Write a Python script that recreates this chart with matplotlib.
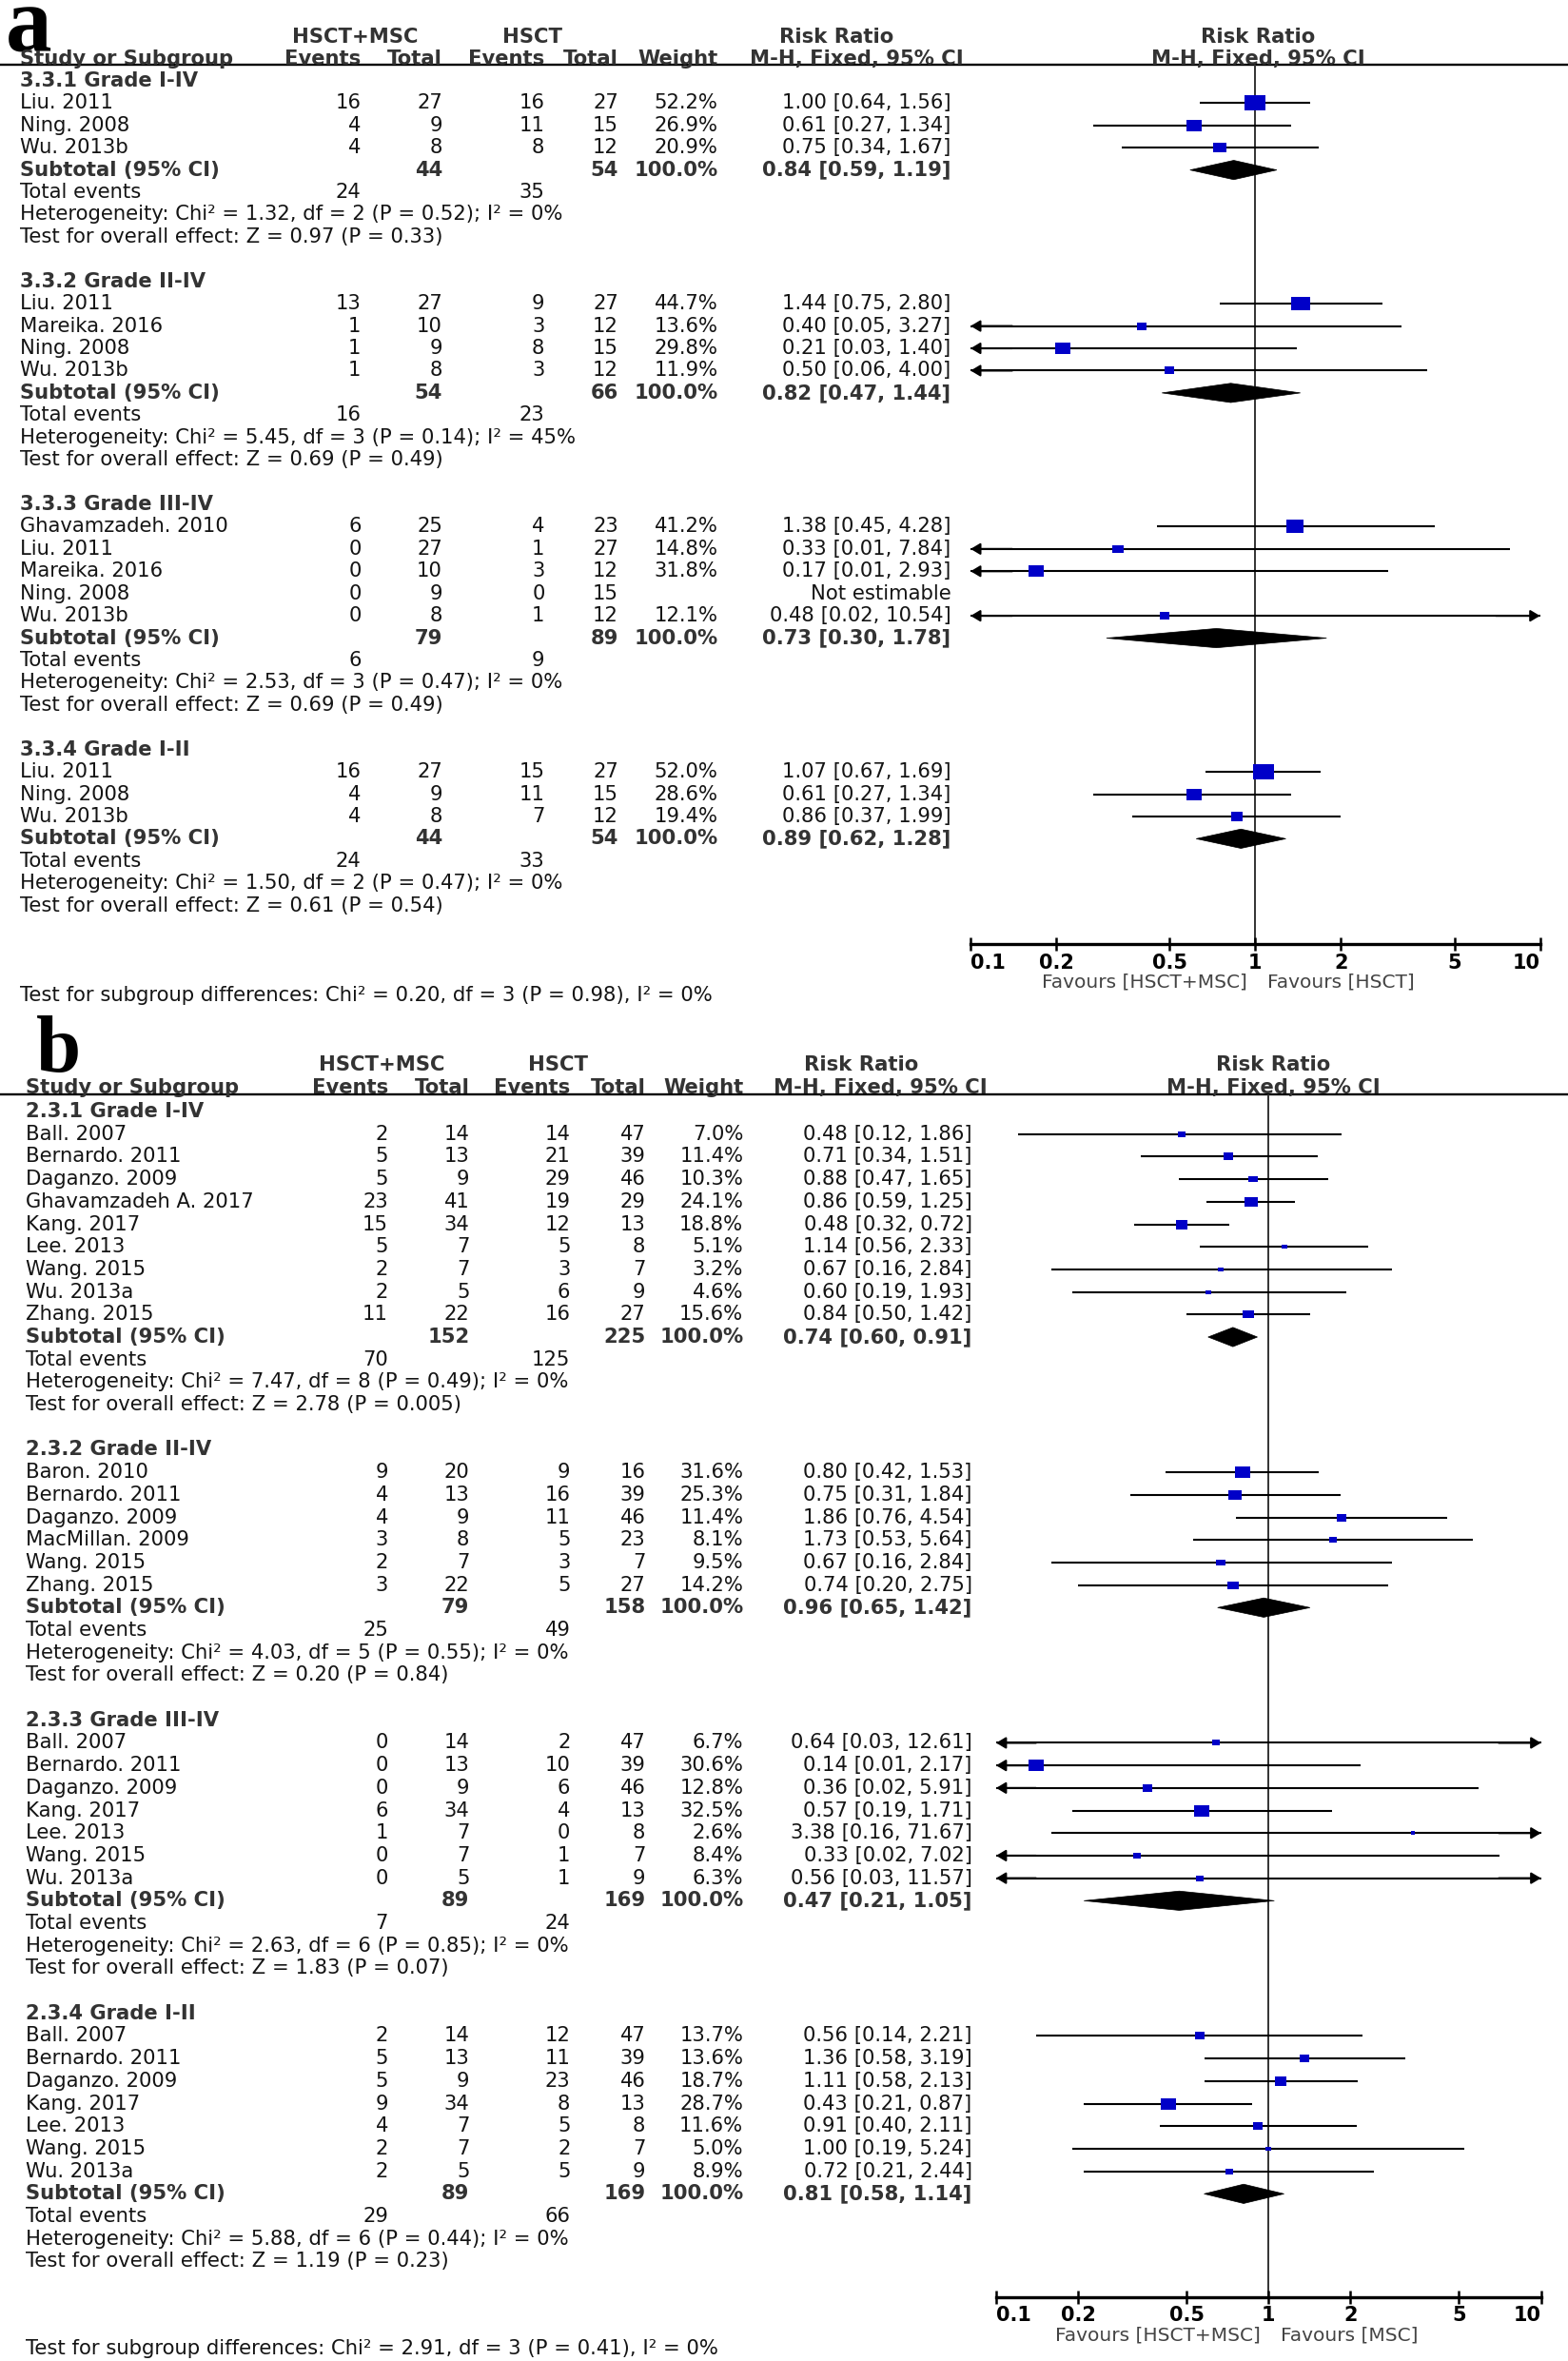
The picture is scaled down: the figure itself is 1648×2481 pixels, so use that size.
import matplotlib
matplotlib.use('Agg')
import matplotlib.pyplot as plt
from matplotlib.patches import Polygon
from matplotlib.path import Path
import numpy as np

# ---------------- DATA : panel a ----------------
a_groups = ["3.3.1 Grade I-IV", "3.3.2 Grade II-IV", "3.3.3 Grade III-IV", "3.3.4 Grade I-II"]
a_group_sizes = [3, 4, 5, 3]
a_studies = ["Liu. 2011", "Ning. 2008", "Wu. 2013b",
             "Liu. 2011", "Mareika. 2016", "Ning. 2008", "Wu. 2013b",
             "Ghavamzadeh. 2010", "Liu. 2011", "Mareika. 2016", "Ning. 2008", "Wu. 2013b",
             "Liu. 2011", "Ning. 2008", "Wu. 2013b"]
a_ev_exp = [16, 4, 4, 13, 1, 1, 1, 6, 0, 0, 0, 0, 16, 4, 4]
a_tot_exp = [27, 9, 8, 27, 10, 9, 8, 25, 27, 10, 9, 8, 27, 9, 8]
a_ev_ctl = [16, 11, 8, 9, 3, 8, 3, 4, 1, 3, 0, 1, 15, 11, 7]
a_tot_ctl = [27, 15, 12, 27, 12, 15, 12, 23, 27, 12, 15, 12, 27, 15, 12]
a_weight = [52.2, 26.9, 20.9, 44.7, 13.6, 29.8, 11.9, 41.2, 14.8, 31.8, None, 12.1, 52.0, 28.6, 19.4]
a_rr = [1.00, 0.61, 0.75, 1.44, 0.40, 0.21, 0.50, 1.38, 0.33, 0.17, None, 0.48, 1.07, 0.61, 0.86]
a_lo = [0.64, 0.27, 0.34, 0.75, 0.05, 0.03, 0.06, 0.45, 0.01, 0.01, None, 0.02, 0.67, 0.27, 0.37]
a_hi = [1.56, 1.34, 1.67, 2.80, 3.27, 1.40, 4.00, 4.28, 7.84, 2.93, None, 10.54, 1.69, 1.34, 1.99]
a_sub_tot_exp = [44, 54, 79, 44]
a_sub_tot_ctl = [54, 66, 89, 54]
a_sub_rr = [0.84, 0.82, 0.73, 0.89]
a_sub_lo = [0.59, 0.47, 0.30, 0.62]
a_sub_hi = [1.19, 1.44, 1.78, 1.28]
a_totev_exp = [24, 16, 6, 24]
a_totev_ctl = [35, 23, 9, 33]
a_het = ["Heterogeneity: Chi\u00b2 = 1.32, df = 2 (P = 0.52); I\u00b2 = 0%",
         "Heterogeneity: Chi\u00b2 = 5.45, df = 3 (P = 0.14); I\u00b2 = 45%",
         "Heterogeneity: Chi\u00b2 = 2.53, df = 3 (P = 0.47); I\u00b2 = 0%",
         "Heterogeneity: Chi\u00b2 = 1.50, df = 2 (P = 0.47); I\u00b2 = 0%"]
a_overall = ["Test for overall effect: Z = 0.97 (P = 0.33)",
             "Test for overall effect: Z = 0.69 (P = 0.49)",
             "Test for overall effect: Z = 0.69 (P = 0.49)",
             "Test for overall effect: Z = 0.61 (P = 0.54)"]
a_subgroup_test = "Test for subgroup differences: Chi\u00b2 = 0.20, df = 3 (P = 0.98), I\u00b2 = 0%"
a_favours = ("Favours [HSCT+MSC]", "Favours [HSCT]")

# ---------------- DATA : panel b ----------------
b_groups = ["2.3.1 Grade I-IV", "2.3.2 Grade II-IV", "2.3.3 Grade III-IV", "2.3.4 Grade I-II"]
b_group_sizes = [9, 6, 7, 7]
b_studies = ["Ball. 2007", "Bernardo. 2011", "Daganzo. 2009", "Ghavamzadeh A. 2017", "Kang. 2017",
             "Lee. 2013", "Wang. 2015", "Wu. 2013a", "Zhang. 2015",
             "Baron. 2010", "Bernardo. 2011", "Daganzo. 2009", "MacMillan. 2009", "Wang. 2015", "Zhang. 2015",
             "Ball. 2007", "Bernardo. 2011", "Daganzo. 2009", "Kang. 2017", "Lee. 2013", "Wang. 2015", "Wu. 2013a",
             "Ball. 2007", "Bernardo. 2011", "Daganzo. 2009", "Kang. 2017", "Lee. 2013", "Wang. 2015", "Wu. 2013a"]
b_ev_exp = [2, 5, 5, 23, 15, 5, 2, 2, 11,
            9, 4, 4, 3, 2, 3,
            0, 0, 0, 6, 1, 0, 0,
            2, 5, 5, 9, 4, 2, 2]
b_tot_exp = [14, 13, 9, 41, 34, 7, 7, 5, 22,
             20, 13, 9, 8, 7, 22,
             14, 13, 9, 34, 7, 7, 5,
             14, 13, 9, 34, 7, 7, 5]
b_ev_ctl = [14, 21, 29, 19, 12, 5, 3, 6, 16,
            9, 16, 11, 5, 3, 5,
            2, 10, 6, 4, 0, 1, 1,
            12, 11, 23, 8, 5, 2, 5]
b_tot_ctl = [47, 39, 46, 29, 13, 8, 7, 9, 27,
             16, 39, 46, 23, 7, 27,
             47, 39, 46, 13, 8, 7, 9,
             47, 39, 46, 13, 8, 7, 9]
b_weight = [7.0, 11.4, 10.3, 24.1, 18.8, 5.1, 3.2, 4.6, 15.6,
            31.6, 25.3, 11.4, 8.1, 9.5, 14.2,
            6.7, 30.6, 12.8, 32.5, 2.6, 8.4, 6.3,
            13.7, 13.6, 18.7, 28.7, 11.6, 5.0, 8.9]
b_rr = [0.48, 0.71, 0.88, 0.86, 0.48, 1.14, 0.67, 0.60, 0.84,
        0.80, 0.75, 1.86, 1.73, 0.67, 0.74,
        0.64, 0.14, 0.36, 0.57, 3.38, 0.33, 0.56,
        0.56, 1.36, 1.11, 0.43, 0.91, 1.00, 0.72]
b_lo = [0.12, 0.34, 0.47, 0.59, 0.32, 0.56, 0.16, 0.19, 0.50,
        0.42, 0.31, 0.76, 0.53, 0.16, 0.20,
        0.03, 0.01, 0.02, 0.19, 0.16, 0.02, 0.03,
        0.14, 0.58, 0.58, 0.21, 0.40, 0.19, 0.21]
b_hi = [1.86, 1.51, 1.65, 1.25, 0.72, 2.33, 2.84, 1.93, 1.42,
        1.53, 1.84, 4.54, 5.64, 2.84, 2.75,
        12.61, 2.17, 5.91, 1.71, 71.67, 7.02, 11.57,
        2.21, 3.19, 2.13, 0.87, 2.11, 5.24, 2.44]
b_sub_tot_exp = [152, 79, 89, 89]
b_sub_tot_ctl = [225, 158, 169, 169]
b_sub_rr = [0.74, 0.96, 0.47, 0.81]
b_sub_lo = [0.60, 0.65, 0.21, 0.58]
b_sub_hi = [0.91, 1.42, 1.05, 1.14]
b_totev_exp = [70, 25, 7, 29]
b_totev_ctl = [125, 49, 24, 66]
b_het = ["Heterogeneity: Chi\u00b2 = 7.47, df = 8 (P = 0.49); I\u00b2 = 0%",
         "Heterogeneity: Chi\u00b2 = 4.03, df = 5 (P = 0.55); I\u00b2 = 0%",
         "Heterogeneity: Chi\u00b2 = 2.63, df = 6 (P = 0.85); I\u00b2 = 0%",
         "Heterogeneity: Chi\u00b2 = 5.88, df = 6 (P = 0.44); I\u00b2 = 0%"]
b_overall = ["Test for overall effect: Z = 2.78 (P = 0.005)",
             "Test for overall effect: Z = 0.20 (P = 0.84)",
             "Test for overall effect: Z = 1.83 (P = 0.07)",
             "Test for overall effect: Z = 1.19 (P = 0.23)"]
b_subgroup_test = "Test for subgroup differences: Chi\u00b2 = 2.91, df = 3 (P = 0.41), I\u00b2 = 0%"
b_favours = ("Favours [HSCT+MSC]", "Favours [MSC]")

tick_values = [0.1, 0.2, 0.5, 1, 2, 5, 10]
tick_labels = ["0.1", "0.2", "0.5", "1", "2", "5", "10"]

# ---------------- FIGURE ----------------
W, H = 1042.0, 1568.6
fig = plt.figure(figsize=(16.48, 24.81), dpi=100)
fig.patch.set_facecolor('white')
tax = fig.add_axes([0, 0, 1, 1])
tax.set_xlim(0, W)
tax.set_ylim(H, 0)
tax.axis('off')

FONT = 'DejaVu Sans'
FS = 15.2
TXT = '#141414'
BTXT = '#333333'
BLUE = '#0000c8'

# wide rectangle marker (the source image is horizontally stretched)
RECT = Path([(-1.0, -0.72), (1.0, -0.72), (1.0, 0.72), (-1.0, 0.72), (-1.0, -0.72)],
            [Path.MOVETO, Path.LINETO, Path.LINETO, Path.LINETO, Path.CLOSEPOLY])


def T(x, y, s, ha='left', bold=False, color=None, size=FS):
    tax.text(x, y, s, ha=ha, va='center', fontsize=size,
             fontweight='bold' if bold else 'normal',
             color=color or (BTXT if bold else TXT), family=FONT)


def panel(cfg, groups, sizes, studies, ev_e, tot_e, ev_c, tot_c, wt, rr, lo, hi,
          s_te, s_tc, s_rr, s_lo, s_hi, te_e, te_c, het, ovr, sgt, fav, letter):
    xl = cfg['xl']
    c_ev1, c_tot1, c_ev2, c_tot2, c_w, c_rr = cfg['cols']
    # panel letter
    tax.text(cfg['let_x'], cfg['let_y'], letter, ha='left', va='baseline',
             fontsize=cfg['let_fs'], fontweight='bold', family='Liberation Serif', color='black')
    # headers
    h1, h2 = cfg['h1'], cfg['h2']
    T(cfg['c_exp'], h1, "HSCT+MSC", ha='center', bold=True)
    T(cfg['c_ctl'], h1, "HSCT", ha='center', bold=True)
    T(cfg['c_rrh'], h1, "Risk Ratio", ha='center', bold=True)
    T(cfg['c_fh'], h1, "Risk Ratio", ha='center', bold=True)
    T(xl, h2, "Study or Subgroup", bold=True)
    T(c_ev1, h2, "Events", ha='right', bold=True)
    T(c_tot1, h2, "Total", ha='right', bold=True)
    T(c_ev2, h2, "Events", ha='right', bold=True)
    T(c_tot2, h2, "Total", ha='right', bold=True)
    T(c_w, h2, "Weight", ha='right', bold=True)
    T(cfg['c_rrh2'], h2, "M-H, Fixed, 95% CI", ha='center', bold=True)
    T(cfg['c_fh'], h2, "M-H, Fixed, 95% CI", ha='center', bold=True)
    tax.plot([0, W], [cfg['line_y'], cfg['line_y']], color='black', lw=1.7)

    # forest axes
    fx0, fx1, fyt, fyb = cfg['fx0'], cfg['fx1'], cfg['line_y'], cfg['axis_y']
    fax = fig.add_axes([fx0 / W, 1 - fyb / H, (fx1 - fx0) / W, (fyb - fyt) / H])
    fax.set_xscale('log')
    fax.set_xlim(0.1, 10)
    fax.set_ylim(fyb, fyt)
    fax.patch.set_alpha(0)
    for s in ['left', 'right', 'top']:
        fax.spines[s].set_visible(False)
    fax.spines['bottom'].set_linewidth(2.4)
    fax.set_yticks([])
    fax.set_xticks(tick_values)
    fax.set_xticklabels(tick_labels)
    fax.minorticks_off()
    fax.tick_params(axis='x', direction='inout', length=10, width=1.8,
                    labelsize=15, pad=1.5, colors='black')
    labs = fax.get_xticklabels()
    for lab in labs:
        lab.set_family(FONT)
        lab.set_fontweight('bold')
    labs[0].set_horizontalalignment('left')
    labs[-1].set_horizontalalignment('right')
    fax.axvline(1, color='#333333', lw=1.4, zorder=1)

    def yrow(r):
        return cfg['y0'] + cfg['dy'] * r

    ahead = dict(arrowstyle='-|>,head_length=0.6,head_width=0.36',
                 color='black', lw=1.5, shrinkA=0, shrinkB=0)
    r = 0
    k = 0
    for g in range(len(groups)):
        T(xl, yrow(r), groups[g], bold=True)
        r += 1
        for j in range(sizes[g]):
            y = yrow(r)
            T(xl, y, studies[k])
            T(c_ev1, y, str(ev_e[k]), ha='right')
            T(c_tot1, y, str(tot_e[k]), ha='right')
            T(c_ev2, y, str(ev_c[k]), ha='right')
            T(c_tot2, y, str(tot_c[k]), ha='right')
            if wt[k] is None:
                T(c_rr, y, "Not estimable", ha='right')
            else:
                T(c_w, y, "%.1f%%" % wt[k], ha='right')
                T(c_rr, y, "%.2f [%.2f, %.2f]" % (rr[k], lo[k], hi[k]), ha='right')
                l = max(lo[k], 0.1)
                h = min(hi[k], 10)
                fax.plot([l, h], [y, y], color='black', lw=1.5, solid_capstyle='butt', zorder=2)
                if lo[k] < 0.1:
                    fax.annotate('', xy=(0.1, y), xytext=(0.14, y), annotation_clip=False,
                                 arrowprops=ahead)
                if hi[k] > 10:
                    fax.annotate('', xy=(10, y), xytext=(7, y), annotation_clip=False,
                                 arrowprops=ahead)
                width_px = max(2.95 * np.sqrt(wt[k]), 5.0)
                fax.plot(rr[k], y, marker=RECT, ms=width_px * 0.72, color=BLUE, mew=0, zorder=3)
            k += 1
            r += 1
        y = yrow(r)
        T(xl, y, "Subtotal (95% CI)", bold=True)
        T(c_tot1, y, str(s_te[g]), ha='right', bold=True)
        T(c_tot2, y, str(s_tc[g]), ha='right', bold=True)
        T(c_w, y, "100.0%", ha='right', bold=True)
        T(c_rr, y, "%.2f [%.2f, %.2f]" % (s_rr[g], s_lo[g], s_hi[g]), ha='right', bold=True)
        dh = 6.4
        fax.add_patch(Polygon([[s_lo[g], y], [s_rr[g], y - dh], [s_hi[g], y], [s_rr[g], y + dh]],
                              closed=True, facecolor='black', edgecolor='black', lw=0.5, zorder=3))
        r += 1
        y = yrow(r)
        T(xl, y, "Total events")
        T(c_ev1, y, str(te_e[g]), ha='right')
        T(c_ev2, y, str(te_c[g]), ha='right')
        r += 1
        T(xl, yrow(r), het[g])
        r += 1
        T(xl, yrow(r), ovr[g])
        r += 2

    T(xl, cfg['sgt_y'], sgt)
    T(cfg['fav_l'], cfg['fav_y'], fav[0], ha='right', color='#444444', size=14.5)
    T(cfg['fav_r'], cfg['fav_y'], fav[1], ha='left', color='#444444', size=14.5)


cfg_a = dict(xl=13, cols=(240, 294, 362, 411, 477, 632), let_x=4, let_y=34, let_fs=70,
             h1=24.5, h2=39.4, line_y=43.3, c_exp=236, c_ctl=354, c_rrh=556, c_rrh2=569, c_fh=836,
             fx0=645, fx1=1023.4, axis_y=627.5, y0=53.7, dy=14.81, sgt_y=661.5,
             fav_l=829, fav_r=842, fav_y=652.5)
cfg_b = dict(xl=17, cols=(258, 312, 379, 429, 494, 646), let_x=24, let_y=712, let_fs=61,
             h1=707.5, h2=722.8, line_y=727.2, c_exp=254, c_ctl=371, c_rrh=572, c_rrh2=585, c_fh=846,
             fx0=662, fx1=1024, axis_y=1526, y0=738.5, dy=14.98, sgt_y=1560.5,
             fav_l=838, fav_r=851, fav_y=1551.5)

panel(cfg_a, a_groups, a_group_sizes, a_studies, a_ev_exp, a_tot_exp, a_ev_ctl, a_tot_ctl,
      a_weight, a_rr, a_lo, a_hi, a_sub_tot_exp, a_sub_tot_ctl, a_sub_rr, a_sub_lo, a_sub_hi,
      a_totev_exp, a_totev_ctl, a_het, a_overall, a_subgroup_test, a_favours, 'a')
panel(cfg_b, b_groups, b_group_sizes, b_studies, b_ev_exp, b_tot_exp, b_ev_ctl, b_tot_ctl,
      b_weight, b_rr, b_lo, b_hi, b_sub_tot_exp, b_sub_tot_ctl, b_sub_rr, b_sub_lo, b_sub_hi,
      b_totev_exp, b_totev_ctl, b_het, b_overall, b_subgroup_test, b_favours, 'b')

fig.savefig('out.png', dpi=100, facecolor='white')
